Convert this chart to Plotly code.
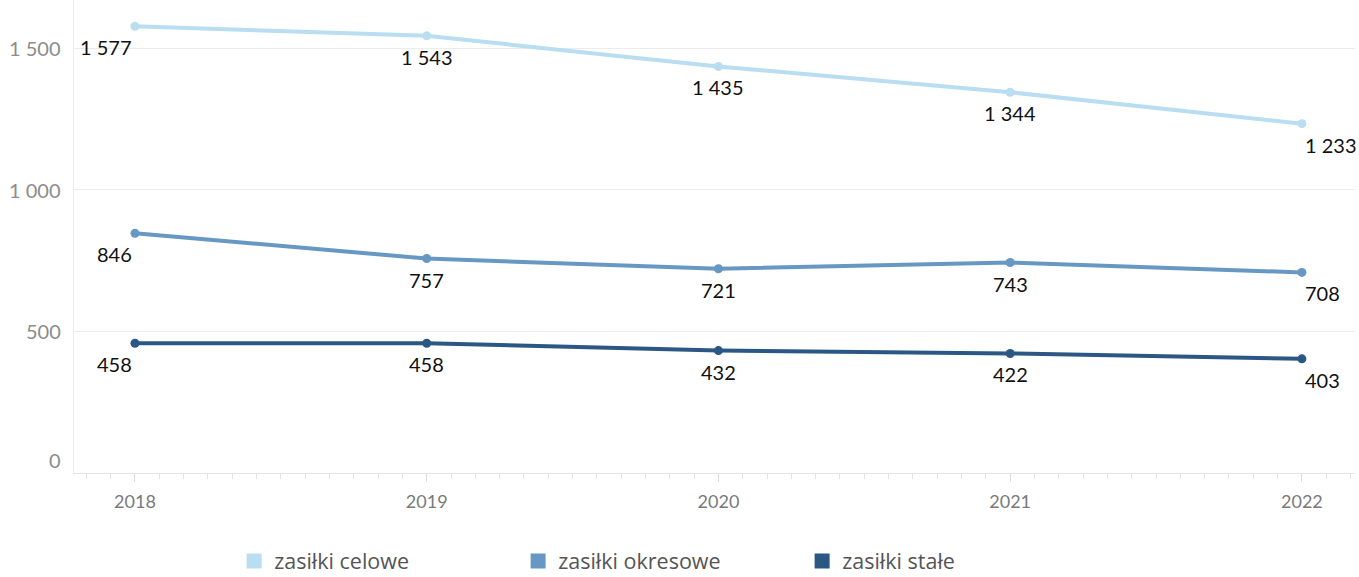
import plotly.graph_objects as go

years = [2018, 2019, 2020, 2021, 2022]
series_names = ["zasiłki celowe", "zasiłki okresowe", "zasiłki stałe"]
celowe = [1577, 1543, 1435, 1344, 1233]
okresowe = [846, 757, 721, 743, 708]
stale = [458, 458, 432, 422, 403]
colors = ["#b9ddf1", "#6798c3", "#2b5784"]
y_ticks = [0, 500, 1000, 1500]


def fmt(v):
    return f"{v:,}".replace(",", " ")


anchors = ["right", "center", "center", "center", "left"]

fig = go.Figure()
for name, vals, col in zip(series_names, [celowe, okresowe, stale], colors):
    fig.add_trace(go.Scatter(
        x=years, y=vals, mode="lines+markers", name=name,
        line=dict(color=col, width=4), marker=dict(color=col, size=9),
        showlegend=False, cliponaxis=False, hoverinfo="skip"))
    for xv, yv, anc in zip(years, vals, anchors):
        fig.add_annotation(x=xv, y=yv, xref="x", yref="y", text=fmt(yv),
                           showarrow=False, xanchor=anc, yanchor="middle",
                           xshift=1 if anc == "left" else (-1 if anc == "right" else 0),
                           yshift=-21,
                           font=dict(family="Lato", size=20, color="#111111"))
for name, col in zip(series_names, colors):
    fig.add_trace(go.Scatter(
        x=[None], y=[None], mode="markers", name=name,
        marker=dict(color=col, size=15, symbol="square"), showlegend=True))

for t in y_ticks:
    fig.add_annotation(x=0, xref="paper", xanchor="right", xshift=-11,
                       y=t, yref="y", yanchor="middle", yshift=13 if t == 0 else 0,
                       text=fmt(t), showarrow=False,
                       font=dict(family="Lato", size=20, color="#8c8c8c"))

fig.update_layout(
    width=1359, height=577,
    margin=dict(l=74, r=4, t=0, b=104, autoexpand=False),
    plot_bgcolor="white", paper_bgcolor="white",
    font=dict(family="Lato"),
    xaxis=dict(range=[2017.791, 2022.182], tickvals=years, ticktext=[str(y) for y in years],
               showgrid=False, zeroline=False, showline=True, linecolor="#e6e6e6",
               ticks="outside", ticklen=8, tickcolor="#dddddd", ticklabelstandoff=4,
               tickfont=dict(family="Lato", size=18, color="#7a7a7a"),
               minor=dict(dtick=1/12, tick0=2018, ticks="outside", ticklen=5, tickcolor="#e3e3e3")),
    yaxis=dict(range=[0, 1669.6], tickvals=y_ticks, showticklabels=False,
               showgrid=True, gridcolor="#ececec", gridwidth=1, zeroline=False,
               showline=True, linecolor="#eeeeee"),
    legend=dict(orientation="h", x=0.125, xanchor="left", y=-0.186, yanchor="middle",
                entrywidth=239, entrywidthmode="pixels",
                font=dict(family="Open Sans", size=21.5, color="#555555"), bgcolor="rgba(0,0,0,0)"),
)

fig.write_html("out.html", config={"displayModeBar": False},
               post_script="document.body.style.margin='0px';")
